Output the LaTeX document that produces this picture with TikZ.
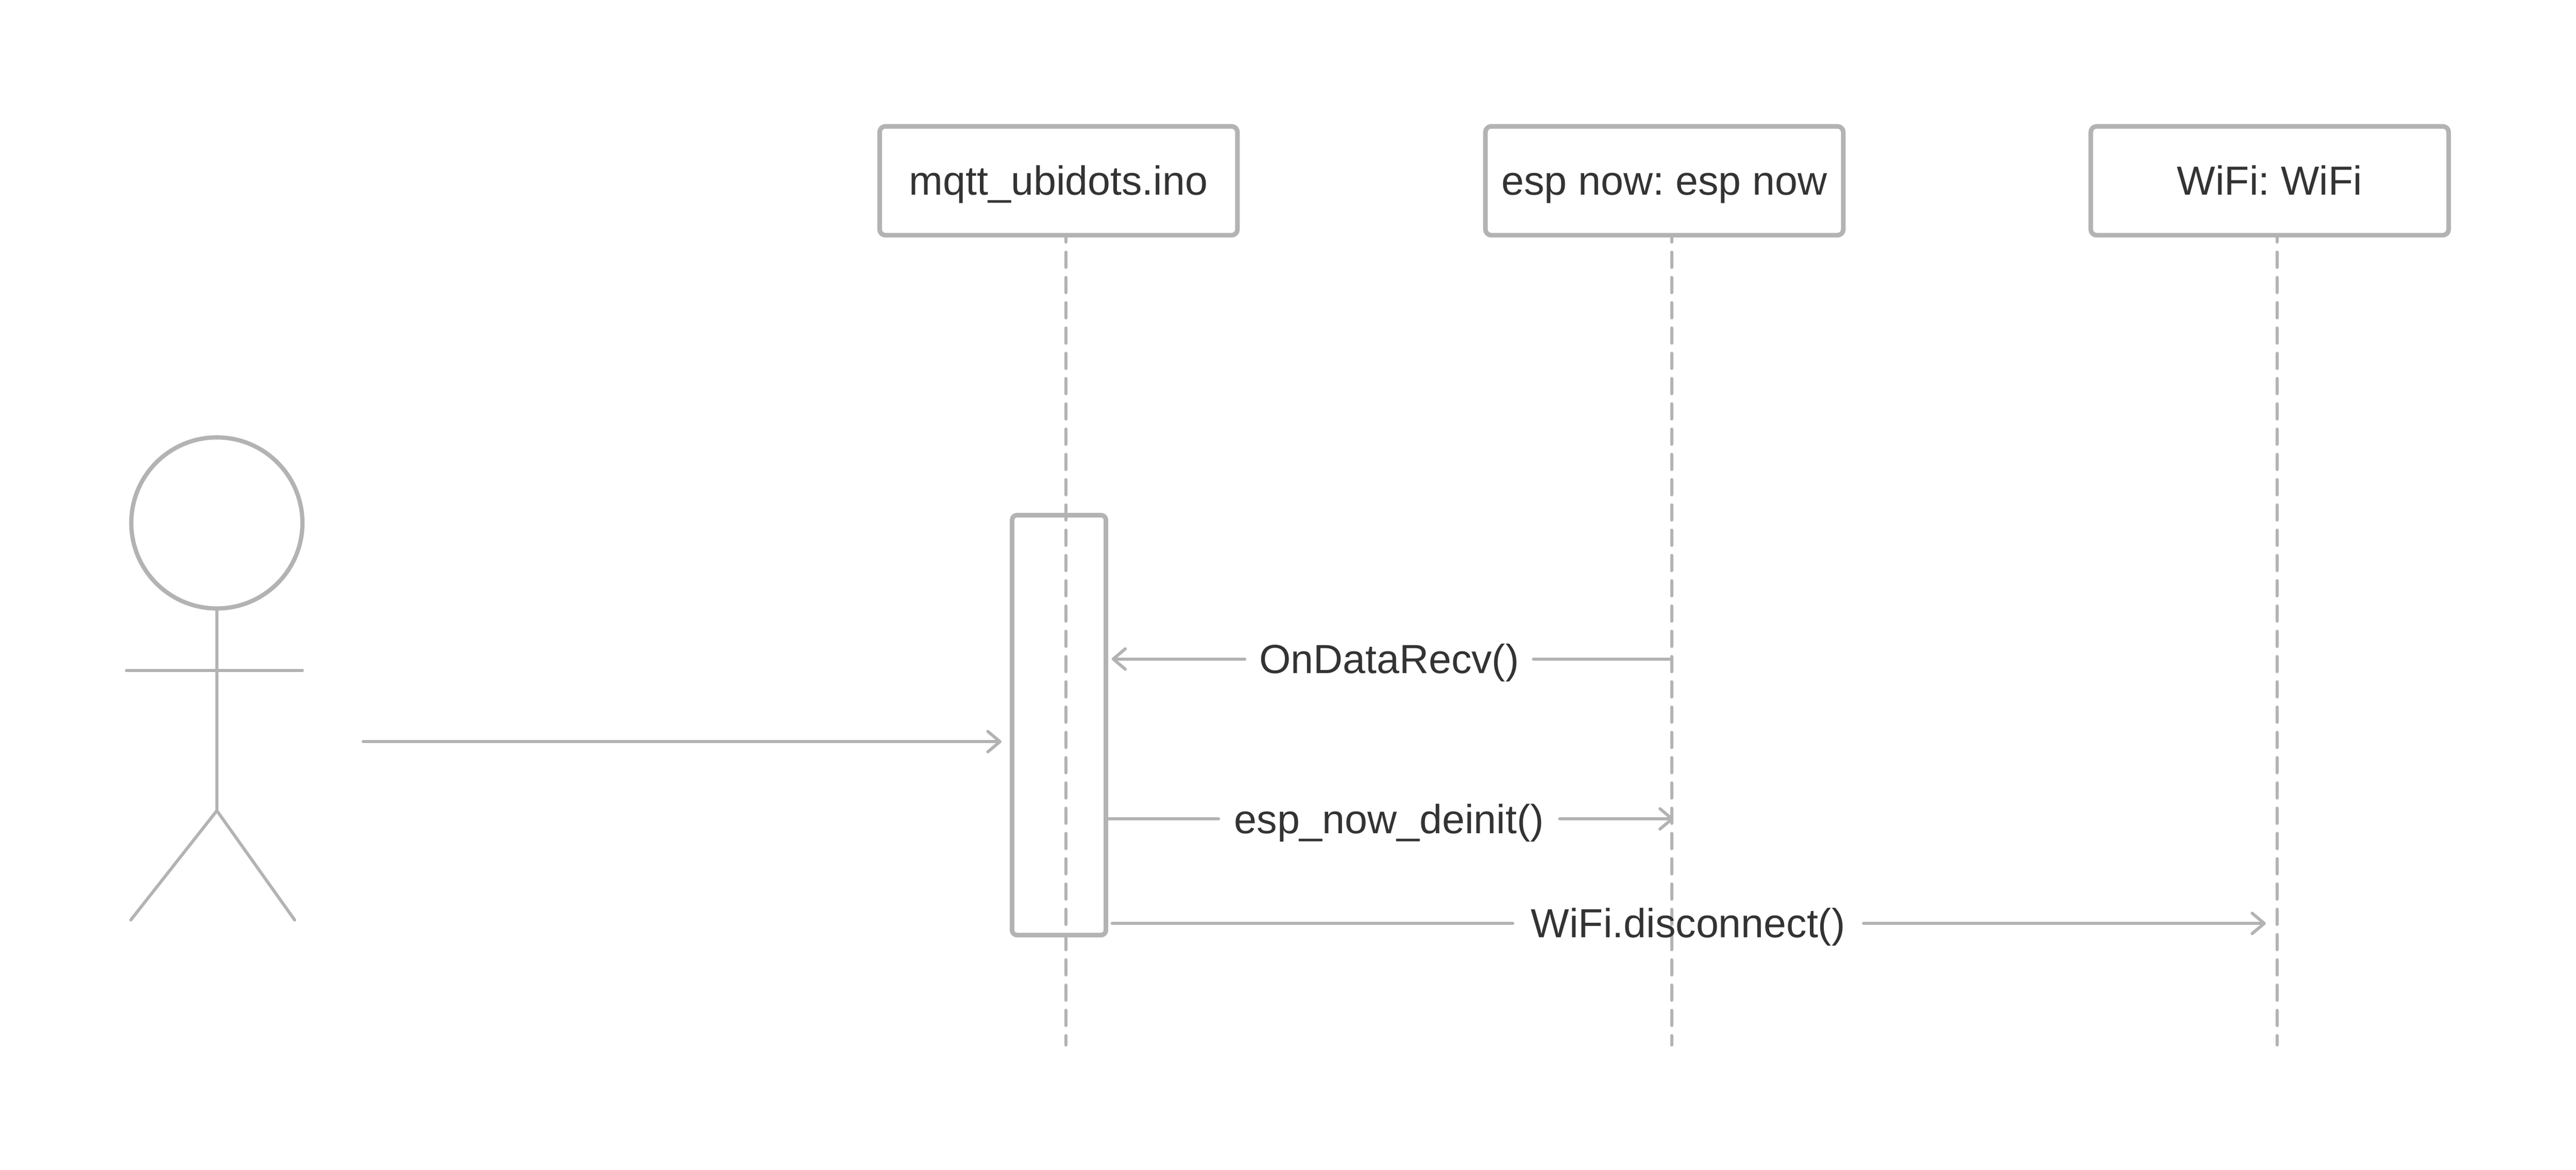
\documentclass[tikz,border=0pt]{standalone}
\usepackage{fontspec}
\setmainfont{Liberation Sans}
\usetikzlibrary{arrows.meta}
\definecolor{linegray}{HTML}{B3B3B3}
\definecolor{textgray}{HTML}{333333}
\tikzset{
	objbox/.style={draw=linegray,line width=2.7pt,fill=white,rounded corners=0.12cm,minimum width=7.36cm,minimum height=2.24cm,inner sep=0pt,text=textgray,font=\fontsize{23.8}{28}\selectfont\frenchspacing,text height=0.59cm,text depth=0cm},
	lifeline/.style={draw=linegray,line width=1.9pt,line cap=round,dash pattern=on 0.31cm off 0.21cm},
	activebox/.style={draw=linegray,line width=2.7pt,rounded corners=0.1cm,minimum width=1.93cm,minimum height=8.64cm,inner sep=0pt},
	msgline/.style={draw=linegray,line width=1.8pt,line cap=round},
	msgtip/.style={-{Straight Barb[length=0.25cm,width=0.42cm,round]}},
	msglabel/.style={inner sep=0pt,text=textgray,font=\fontsize{23.8}{28}\selectfont\frenchspacing,text height=0.59cm,text depth=0cm},
	stick/.style={draw=linegray,line width=1.8pt,line cap=round}
}
\begin{document}
\begin{tikzpicture}
	\useasboundingbox (0,0) rectangle (52.98,24.07);
	\coordinate (mqtttop) at (21.92,19.40);
	\coordinate (mqttend) at (21.92,2.57);
	\coordinate (esptop) at (34.38,19.40);
	\coordinate (espend) at (34.38,2.57);
	\coordinate (wifitop) at (46.83,19.40);
	\coordinate (wifiend) at (46.83,2.57);
	\draw[lifeline] (mqtttop) -- (mqttend);
	\draw[lifeline] (esptop) -- (espend);
	\draw[lifeline] (wifitop) -- (wifiend);
	\node[objbox] (mqtt) at (21.77,20.35) {mqtt\_ubidots.ino};
	\node[objbox] (esp) at (34.23,20.35) {esp now: esp now};
	\node[objbox] (wifi) at (46.68,20.35) {WiFi: WiFi};
	\node[activebox] (active) at (21.78,9.15) {};
	\node[draw=linegray,line width=2.5pt,circle,minimum size=3.52cm,inner sep=0pt] (head) at (4.46,13.31) {};
	\coordinate (hip) at (4.46,7.39);
	\coordinate (armleft) at (2.60,10.27);
	\coordinate (armright) at (6.22,10.27);
	\coordinate (footleft) at (2.69,5.14);
	\coordinate (footright) at (6.06,5.14);
	\draw[stick] (head.south) -- (hip);
	\draw[stick] (armleft) -- (armright);
	\draw[stick] (footleft) -- (hip) -- (footright);
	\coordinate (actorstart) at (7.47,8.81);
	\draw[msgline,msgtip,shorten >=0.17cm] (actorstart) -- (active.west |- actorstart);
	\node[msglabel,minimum width=5.92cm] (recv) at (28.57,10.51) {OnDataRecv()};
	\draw[msgline] (espend |- recv.east) -- (recv.east);
	\draw[msgline,msgtip,shorten >=0.07cm] (recv.west) -- (active.east |- recv.west);
	\node[msglabel,minimum width=7cm] (deinit) at (28.57,7.22) {esp\_now\_deinit()};
	\draw[msgline] (active.east |- deinit.west) -- (deinit.west);
	\draw[msgline,msgtip,shorten >=-0.04cm] (deinit.east) -- (espend |- deinit.east);
	\node[msglabel,minimum width=7.2cm] (disconnect) at (34.72,5.07) {WiFi.disconnect()};
	\draw[msgline,shorten <=0.08cm] (active.east |- disconnect.west) -- (disconnect.west);
	\draw[msgline,msgtip,shorten >=0.23cm] (disconnect.east) -- (wifiend |- disconnect.east);
\end{tikzpicture}
\end{document}
